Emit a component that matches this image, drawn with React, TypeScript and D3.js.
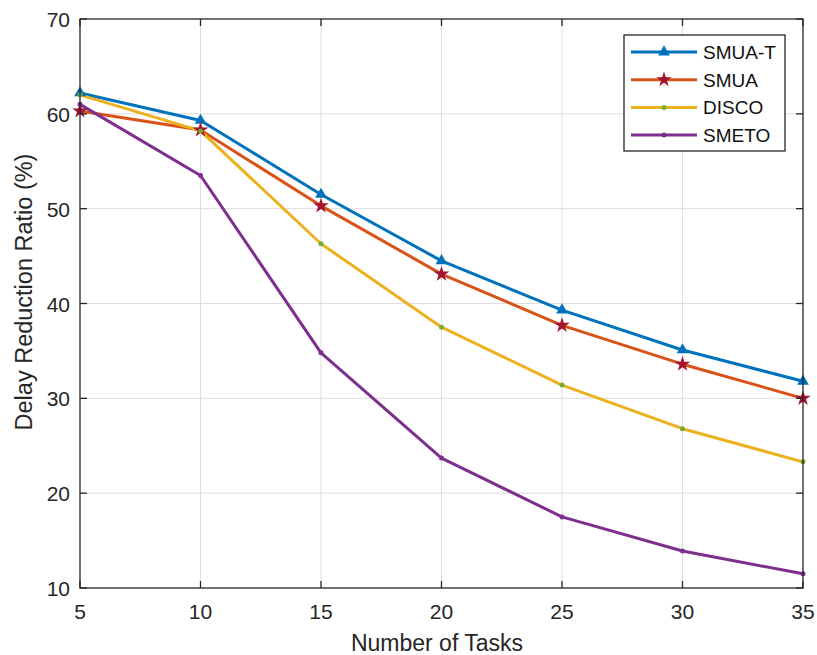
import { useRef, useEffect } from 'react';
import * as d3 from 'd3';

// Data
const tasks = [5, 10, 15, 20, 25, 30, 35];
const smuaT = [62.2, 59.3, 51.5, 44.5, 39.3, 35.1, 31.8];
const smua = [60.3, 58.3, 50.3, 43.1, 37.7, 33.6, 30.0];
const disco = [62.0, 58.2, 46.3, 37.5, 31.4, 26.8, 23.3];
const smeto = [61.0, 53.5, 34.8, 23.7, 17.5, 13.9, 11.5];
const xTicks = [5, 10, 15, 20, 25, 30, 35];
const yTicks = [10, 20, 30, 40, 50, 60, 70];

const series = [
  { name: 'SMUA-T', values: smuaT, color: '#0072BD', marker: 'triangle', markerColor: '#0072BD' },
  { name: 'SMUA', values: smua, color: '#D95319', marker: 'star', markerColor: '#A2142F' },
  { name: 'DISCO', values: disco, color: '#EDB120', marker: 'dot', markerColor: '#77AC30' },
  { name: 'SMETO', values: smeto, color: '#7E2F8E', marker: 'dot', markerColor: '#7E2F8E' },
];

export default function App() {
  const ref = useRef<SVGSVGElement>(null);
  const width = 817;
  const height = 655;

  useEffect(() => {
    const svg = d3.select(ref.current);
    svg.selectAll('*').remove();

    const left = 80, right = 803, top = 19, bottom = 588;
    const x = d3.scaleLinear().domain([5, 35]).range([left, right]);
    const y = d3.scaleLinear().domain([10, 70]).range([bottom, top]);
    const font = 'Liberation Sans, Arial, sans-serif';
    const axisColor = '#262626';

    svg.append('rect')
      .attr('x', left).attr('y', top)
      .attr('width', right - left).attr('height', bottom - top)
      .attr('fill', '#fff');

    // Grid
    const grid = svg.append('g').attr('stroke', '#dedede').attr('stroke-width', 1);
    xTicks.slice(1, -1).forEach(t => {
      grid.append('line').attr('x1', x(t)).attr('x2', x(t)).attr('y1', top).attr('y2', bottom);
    });
    yTicks.slice(1, -1).forEach(t => {
      grid.append('line').attr('x1', left).attr('x2', right).attr('y1', y(t)).attr('y2', y(t));
    });

    // Lines
    const line = d3.line<number>()
      .x((d, i) => x(tasks[i]))
      .y(d => y(d));

    const star = d3.symbol().type(d3.symbolStar).size(75);
    const tri = d3.symbol().type(d3.symbolTriangle).size(60);

    const drawMarker = (g: any, kind: string, cx: number, cy: number, color: string) => {
      if (kind === 'triangle') {
        g.append('path').attr('d', tri()).attr('transform', `translate(${cx},${cy})`).attr('fill', color);
      } else if (kind === 'star') {
        g.append('path').attr('d', star()).attr('transform', `translate(${cx},${cy})`).attr('fill', color);
      } else {
        g.append('circle').attr('cx', cx).attr('cy', cy).attr('r', 2.5).attr('fill', color);
      }
    };

    series.forEach(s => {
      svg.append('path')
        .datum(s.values)
        .attr('d', line)
        .attr('fill', 'none')
        .attr('stroke', s.color)
        .attr('stroke-width', 3)
        .attr('stroke-linejoin', 'round');
    });
    series.forEach(s => {
      const g = svg.append('g');
      s.values.forEach((v, i) => drawMarker(g, s.marker, x(tasks[i]), y(v), s.markerColor));
    });

    // Axes box and ticks
    const ax = svg.append('g').attr('stroke', axisColor).attr('stroke-width', 1.3);
    ax.append('rect')
      .attr('x', left).attr('y', top)
      .attr('width', right - left).attr('height', bottom - top)
      .attr('fill', 'none');
    const tl = 7;
    xTicks.forEach(t => {
      ax.append('line').attr('x1', x(t)).attr('x2', x(t)).attr('y1', bottom).attr('y2', bottom - tl);
      ax.append('line').attr('x1', x(t)).attr('x2', x(t)).attr('y1', top).attr('y2', top + tl);
    });
    yTicks.forEach(t => {
      ax.append('line').attr('x1', left).attr('x2', left + tl).attr('y1', y(t)).attr('y2', y(t));
      ax.append('line').attr('x1', right).attr('x2', right - tl).attr('y1', y(t)).attr('y2', y(t));
    });

    // Tick labels
    xTicks.forEach(t => {
      svg.append('text')
        .attr('x', x(t)).attr('y', bottom + 31)
        .attr('text-anchor', 'middle')
        .attr('font-family', font).attr('font-size', 21)
        .attr('fill', axisColor)
        .text(t);
    });
    yTicks.forEach(t => {
      svg.append('text')
        .attr('x', left - 10).attr('y', y(t) + 8)
        .attr('text-anchor', 'end')
        .attr('font-family', font).attr('font-size', 21)
        .attr('fill', axisColor)
        .text(t);
    });

    // Axis titles
    svg.append('text')
      .attr('x', 437).attr('y', 651)
      .attr('text-anchor', 'middle')
      .attr('font-family', font).attr('font-size', 23)
      .attr('fill', axisColor)
      .text('Number of Tasks');
    svg.append('text')
      .attr('transform', `translate(32,292) rotate(-90)`)
      .attr('text-anchor', 'middle')
      .attr('font-family', font).attr('font-size', 23.5)
      .attr('fill', axisColor)
      .text('Delay Reduction Ratio (%)');

    // Legend
    const lg = svg.append('g');
    lg.append('rect')
      .attr('x', 624).attr('y', 35).attr('width', 161).attr('height', 116)
      .attr('fill', '#fff').attr('stroke', axisColor).attr('stroke-width', 1.3);
    series.forEach((s, i) => {
      const ly = 52 + i * 27.7;
      lg.append('line')
        .attr('x1', 631).attr('x2', 697).attr('y1', ly).attr('y2', ly)
        .attr('stroke', s.color).attr('stroke-width', 3);
      drawMarker(lg, s.marker, 664, ly, s.markerColor);
      lg.append('text')
        .attr('x', 703).attr('y', ly + 7)
        .attr('font-family', font).attr('font-size', 19)
        .attr('fill', '#111')
        .text(s.name);
    });
  }, []);

  return <svg ref={ref} width={width} height={height} style={{ position: 'absolute', left: 0, top: 0 }} />;
}
